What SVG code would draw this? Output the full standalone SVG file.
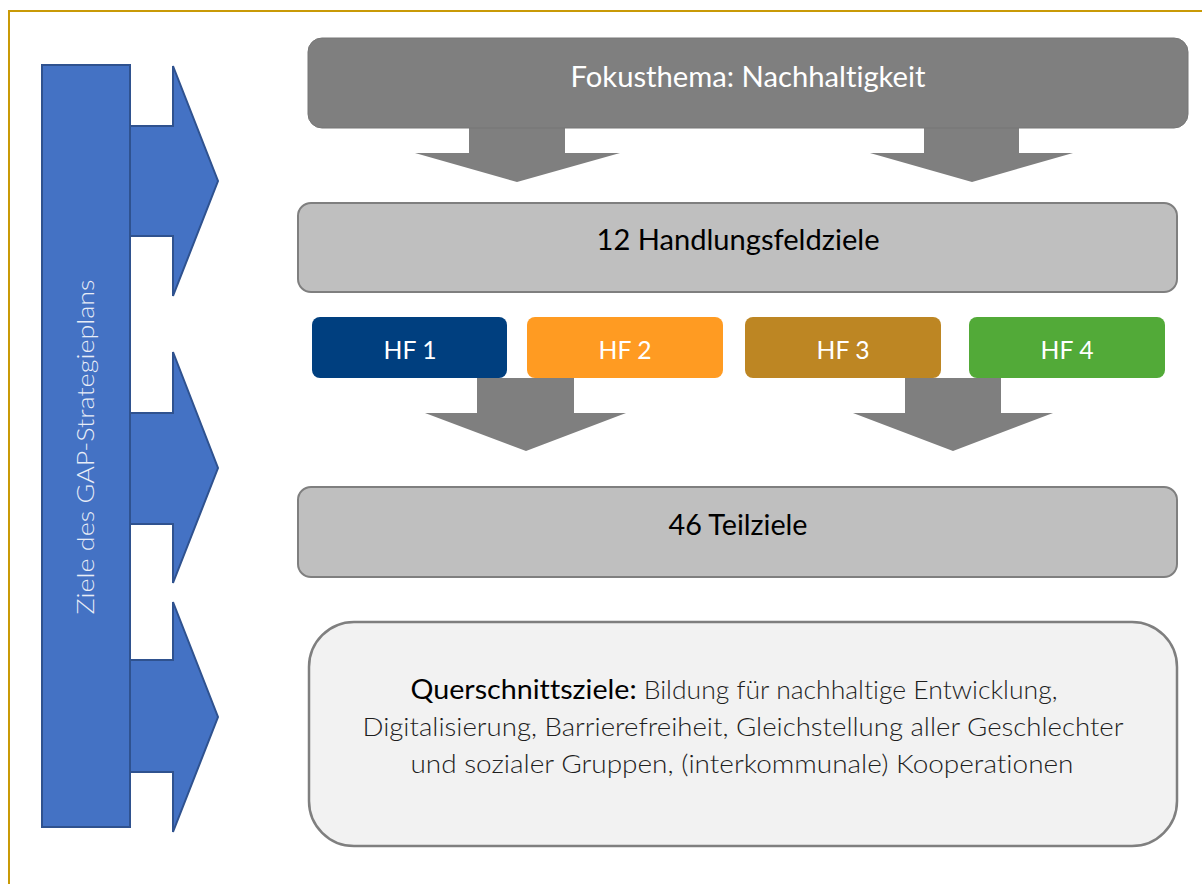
<svg xmlns="http://www.w3.org/2000/svg" width="1202" height="884" viewBox="0 0 1202 884">
<style>
.blue{fill:#4472c4;stroke:#2f528f;stroke-width:2;stroke-linejoin:miter}
.down{fill:#7f7f7f;stroke:none}
.t{font-family:Lato,"Open Sans","Liberation Sans",sans-serif;text-anchor:middle;font-variant-ligatures:none}
.w{fill:#ffffff}
.hf{font-size:25px;fill:#ffffff}
</style>
<rect x="0" y="0" width="1202" height="884" fill="#ffffff"/>
<rect x="9" y="11" width="1210" height="900" fill="none" stroke="#c99a06" stroke-width="2"/>

<g id="left-bar">
  <g id="side-arrows">
    <polygon class="blue" points="128,126 173,126 173,66 218,181 173,296 173,236 128,236"/>
    <polygon class="blue" points="128,413 173,413 173,352 218,468 173,583 173,524 128,524"/>
    <polygon class="blue" points="128,660 173,660 173,602 218,717 173,832 173,772 128,772"/>
  </g>
  <rect class="blue" x="42" y="65" width="88" height="762"/>
  <text class="t" fill="#e8edf7" transform="translate(94,447) rotate(-90)" font-size="24" font-weight="300" textLength="335" lengthAdjust="spacingAndGlyphs">Ziele des GAP-Strategieplans</text>
</g>

<g id="connectors">
  <polygon class="down" points="469,128 565,128 565,153 620,153 517,182 415,153 469,153"/>
  <polygon class="down" points="924,128 1019,128 1019,153 1073,153 972,182 870,153 924,153"/>
  <polygon class="down" points="477,378 574,378 574,413 626,413 526,451 425,413 477,413"/>
  <polygon class="down" points="905,378 1001,378 1001,413 1053,413 953,451 853,413 905,413"/>
</g>

<g id="fokus">
  <rect x="308" y="38" width="880" height="90" rx="14" fill="#7f7f7f" stroke="#767676" stroke-width="1"/>
  <text class="t w" x="748" y="87" font-size="29" textLength="355" lengthAdjust="spacingAndGlyphs">Fokusthema: Nachhaltigkeit</text>
</g>

<g id="handlungsfeldziele">
  <rect x="298" y="203" width="879" height="89" rx="13" fill="#bfbfbf" stroke="#7f7f7f" stroke-width="2"/>
  <text class="t" x="738" y="250" font-size="29" fill="#000000" textLength="283" lengthAdjust="spacingAndGlyphs">12 Handlungsfeldziele</text>
</g>

<g id="hf1">
  <rect x="312" y="317" width="195" height="61" rx="8" fill="#003f7f"/>
  <text class="t hf" x="410" y="359" textLength="53" lengthAdjust="spacingAndGlyphs">HF 1</text>
</g>
<g id="hf2">
  <rect x="527" y="317" width="196" height="61" rx="8" fill="#ff9b22"/>
  <text class="t hf" x="625" y="359" textLength="53" lengthAdjust="spacingAndGlyphs">HF 2</text>
</g>
<g id="hf3">
  <rect x="745" y="317" width="196" height="61" rx="8" fill="#bd8623"/>
  <text class="t hf" x="843" y="359" textLength="53" lengthAdjust="spacingAndGlyphs">HF 3</text>
</g>
<g id="hf4">
  <rect x="969" y="317" width="196" height="61" rx="8" fill="#52aa38"/>
  <text class="t hf" x="1067" y="359" textLength="53" lengthAdjust="spacingAndGlyphs">HF 4</text>
</g>

<g id="teilziele">
  <rect x="298" y="487" width="879" height="90" rx="13" fill="#bfbfbf" stroke="#7f7f7f" stroke-width="2"/>
  <text class="t" x="738" y="535" font-size="29" fill="#000000" textLength="139" lengthAdjust="spacingAndGlyphs">46 Teilziele</text>
</g>

<g id="querschnittsziele">
  <rect x="309" y="622" width="868" height="224" rx="45" fill="#f2f2f2" stroke="#7f7f7f" stroke-width="2.5"/>
  <text class="t" x="734" y="699" fill="#1e1e1e" font-size="25" textLength="647" lengthAdjust="spacingAndGlyphs"><tspan fill="#000000" font-size="27">Querschnittsziele:</tspan><tspan font-weight="300"> Bildung für nachhaltige Entwicklung,</tspan></text>
  <text class="t" x="743" y="736" fill="#1e1e1e" font-size="25" font-weight="300" textLength="761" lengthAdjust="spacingAndGlyphs">Digitalisierung, Barrierefreiheit, Gleichstellung aller Geschlechter</text>
  <text class="t" x="742" y="773" fill="#1e1e1e" font-size="25" font-weight="300" textLength="663" lengthAdjust="spacingAndGlyphs">und sozialer Gruppen, (interkommunale) Kooperationen</text>
</g>
</svg>
